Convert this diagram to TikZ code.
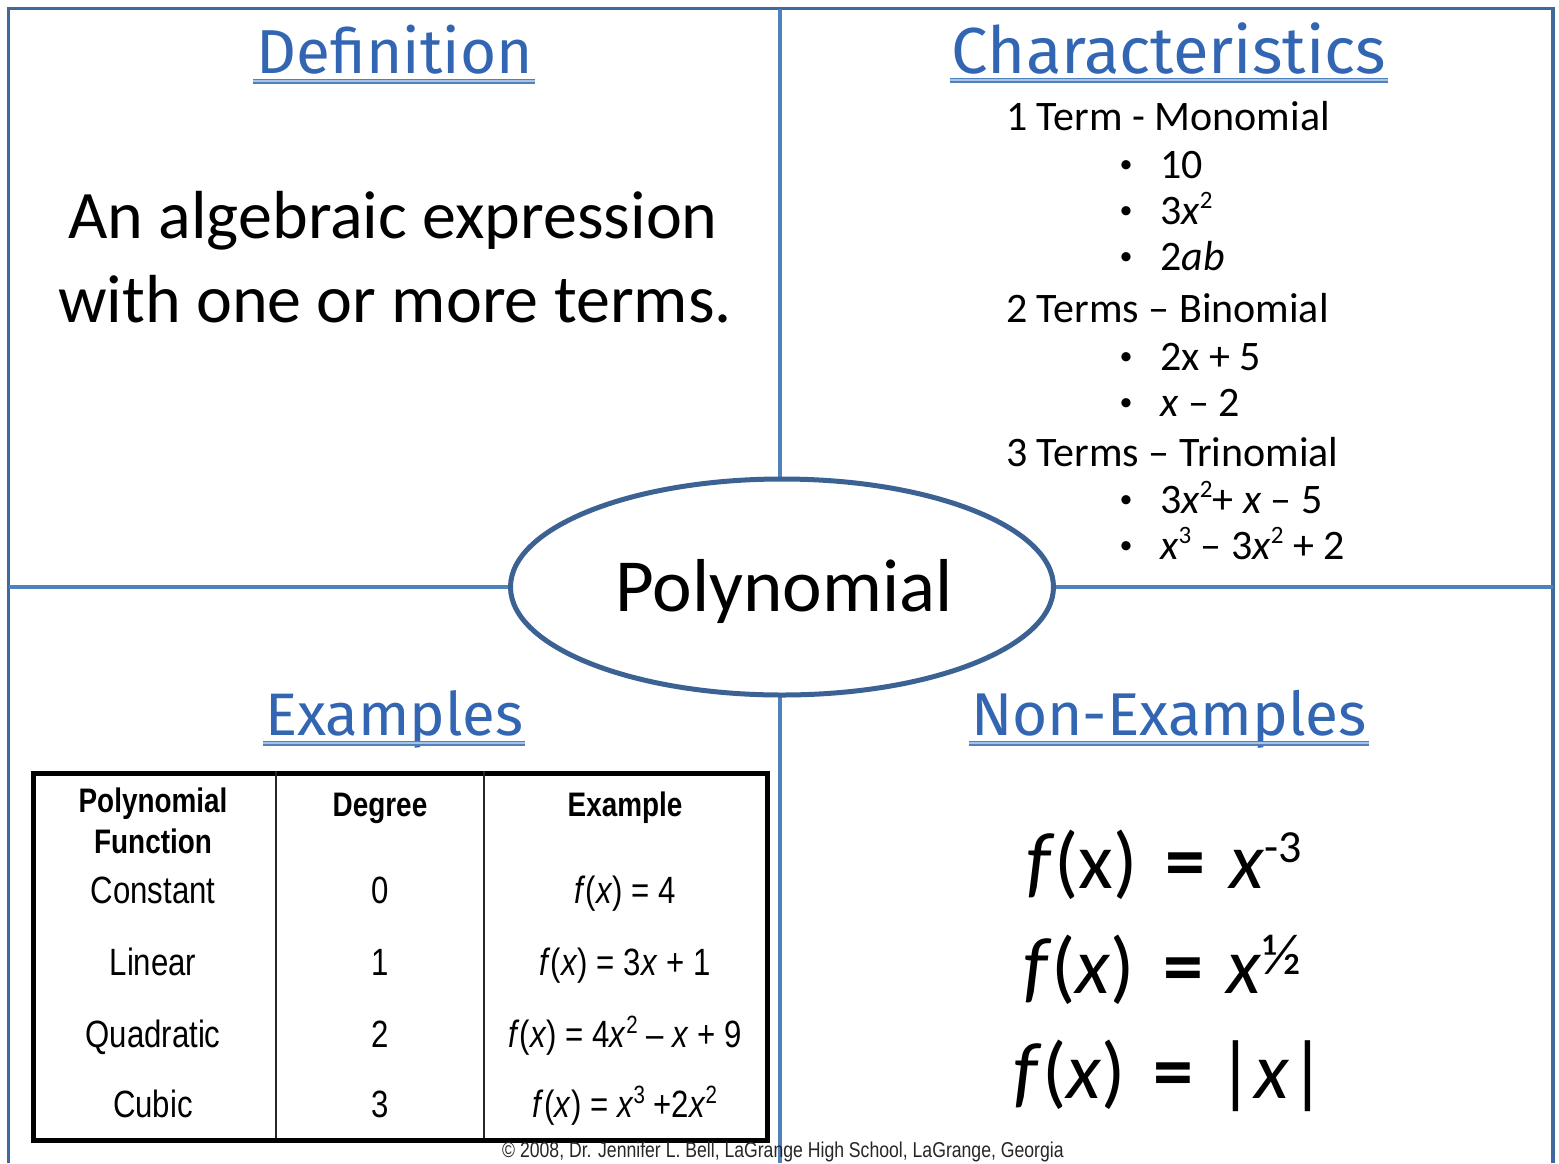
\documentclass[tikz,border=0pt]{standalone}
\usepackage{fontspec}
\usepackage{graphicx}
\usetikzlibrary{shapes.geometric}
\setmainfont{Carlito}
\newfontfamily\narrowfont[FakeStretch=0.82]{Liberation Sans}
\newfontfamily\titlefont{Fira Sans}
\definecolor{frameblue}{HTML}{41689C}
\definecolor{lineblue}{HTML}{4F81BD}
\definecolor{ovalblue}{HTML}{3C6294}
\definecolor{titleblue}{HTML}{3366B2}
\definecolor{ulight}{HTML}{A9C3E6}
\newcommand\fitw[2]{\resizebox{#1pt}{!}{#2}}
\newcommand\csup[1]{\raisebox{16pt}{\fontsize{25}{25}\selectfont #1}}
\newcommand\tsup[1]{\raisebox{14pt}{\fontsize{25}{25}\selectfont #1}}
\begin{document}
\begin{tikzpicture}[x=1pt,y=-1pt,
  frame/.style={draw=frameblue,line width=3.5pt},
  divider/.style={draw=lineblue,line width=4pt},
  title/.style={anchor=base,text=titleblue,font=\titlefont\fontsize{60}{60}\selectfont,inner sep=0pt},
  uline/.style={draw=lineblue,double=ulight,double distance=1.4pt,line width=1.8pt},
  deftext/.style={anchor=base,font=\fontsize{68}{80}\selectfont,inner sep=0pt},
  chartxt/.style={anchor=base west,font=\fontsize{42}{50}\selectfont,inner sep=0pt},
  bulletmark/.style={anchor=base,font=\fontsize{26}{30}\selectfont,inner sep=0pt},
  tblhead/.style={anchor=base,font=\narrowfont\bfseries\fontsize{34}{40}\selectfont,inner sep=0pt},
  tblcell/.style={anchor=base,font=\narrowfont\fontsize{38}{44}\selectfont,inner sep=0pt},
  nonex/.style={anchor=base,font=\fontsize{80}{90}\selectfont,inner sep=0pt},
  footer/.style={anchor=base west,font=\narrowfont\fontsize{21.5}{24}\selectfont,text=black!85,inner sep=0pt}
]
\useasboundingbox (0,0) rectangle (1559,1163);
\fill[white] (0,0) rectangle (1559,1163);

% frame and dividers
\draw[frame] (8.5,1163) -- (8.5,8.5) -- (1553,8.5) -- (1553,1163);
\draw[divider] (8.5,587) -- (1553,587);
\draw[divider] (780,8.5) -- (780,1163);

% central oval
\node[ellipse,draw=ovalblue,line width=5pt,fill=white,inner sep=0pt,
      minimum width=543pt,minimum height=216pt] (oval) at (782,587) {};
\node[anchor=base,font=\fontsize{75}{80}\selectfont,inner sep=0pt] (polytxt) at (784,611) {Polynomial};

% titles
\node[title] (tdef) at (395,73) {\fitw{276}{Definition}};
\draw[uline] (253,81) -- (535,81);
\node[title] (tchar) at (1169,73) {\fitw{434}{Characteristics}};
\draw[uline] (950,80) -- (1388,80);
\node[title] (tex) at (394,735) {\fitw{258}{Examples}};
\draw[uline] (263,743) -- (525,743);
\node[title] (tnon) at (1169,735) {\fitw{396}{Non-Examples}};
\draw[uline] (969,743) -- (1369,743);

% definition
\node[deftext] (def1) at (393,238) {An algebraic expression};
\node[deftext] (def2) at (395,322) {with one or more terms.};

% characteristics
\node[chartxt] (c1) at (1006,130) {1 Term - Monomial};
\node[bulletmark] (b1) at (1126,178) {\raisebox{6pt}{•}};
\node[chartxt] (c1a) at (1160,178) {10};
\node[bulletmark] (b2) at (1126,224) {\raisebox{6pt}{•}};
\node[chartxt] (c1b) at (1160,224) {3\textit{x}\csup{2}};
\node[bulletmark] (b3) at (1126,270) {\raisebox{6pt}{•}};
\node[chartxt] (c1c) at (1160,270) {2\textit{ab}};
\node[chartxt] (c2) at (1006,322) {2 Terms – Binomial};
\node[bulletmark] (b4) at (1126,370) {\raisebox{6pt}{•}};
\node[chartxt] (c2a) at (1160,370) {2x + 5};
\node[bulletmark] (b5) at (1126,416) {\raisebox{6pt}{•}};
\node[chartxt] (c2b) at (1160,416) {\textit{x} – 2};
\node[chartxt] (c3) at (1006,466) {3 Terms – Trinomial};
\node[bulletmark] (b6) at (1126,513) {\raisebox{6pt}{•}};
\node[chartxt] (c3a) at (1160,513) {3\textit{x}\csup{2}+ \textit{x} – 5};
\node[bulletmark] (b7) at (1126,559) {\raisebox{6pt}{•}};
\node[chartxt] (c3b) at (1160,559) {\textit{x}\csup{3} – 3\textit{x}\csup{2} + 2};

% table
\node[draw,line width=5pt,inner sep=0pt,minimum width=734pt,minimum height=367pt,anchor=north west] (tbl) at (31,771) {};
\draw[line width=1.5pt,black!85] (276,771) -- (276,1138);
\draw[line width=1.5pt,black!85] (484,771) -- (484,1138);
\node[tblhead] (h1a) at (153,812) {Polynomial};
\node[tblhead] (h1b) at (153,853) {Function};
\node[tblhead] (h2) at (380,816) {Degree};
\node[tblhead] (h3) at (625,816) {Example};
\node[tblcell] (r1a) at (153,903) {Constant};
\node[tblcell] (r1b) at (380,903) {0};
\node[tblcell] (r1c) at (625,903) {\textit{f}(\textit{x}) = 4};
\node[tblcell] (r2a) at (153,975) {Linear};
\node[tblcell] (r2b) at (380,975) {1};
\node[tblcell] (r2c) at (625,975) {\textit{f}(\textit{x}) = 3\textit{x} + 1};
\node[tblcell] (r3a) at (153,1047) {Quadratic};
\node[tblcell] (r3b) at (380,1047) {2};
\node[tblcell] (r3c) at (625,1047) {\textit{f}(\textit{x}) = 4\textit{x}\tsup{2} – \textit{x} + 9};
\node[tblcell] (r4a) at (153,1117) {Cubic};
\node[tblcell] (r4b) at (380,1117) {3};
\node[tblcell] (r4c) at (625,1117) {\textit{f}(\textit{x}) = \textit{x}\tsup{3} +2\textit{x}\tsup{2}};

% non-examples
\node[nonex] (n1) at (1164,888) {\textit{f}(x)\hspace{0.35em}\textbf{=}\hspace{0.3em}\textit{x}\raisebox{26pt}{\fontsize{46}{46}\selectfont -3}};
\node[nonex] (n2) at (1162,993) {\textit{f}(\textit{x})\hspace{0.35em}\textbf{=}\hspace{0.3em}\textit{x}\raisebox{19pt}{\fontsize{58}{58}\selectfont ½}};
\node[nonex] (n3) at (1170,1098) {\textit{f}(\textit{x})\hspace{0.35em}\textbf{=}\hspace{0.3em}|\textit{x}|};

% footer
\node[footer] (foot) at (502,1157) {© 2008, Dr. Jennifer L. Bell, LaGrange High School, LaGrange, Georgia};
\end{tikzpicture}
\end{document}
